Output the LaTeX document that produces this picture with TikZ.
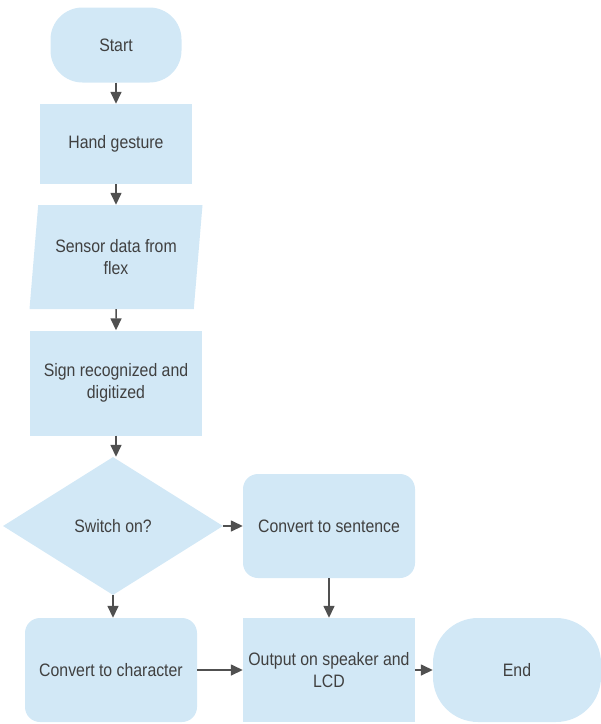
\documentclass[tikz,border=0pt]{standalone}
\usepackage{fontspec}
\setmainfont{Liberation Sans}[FakeStretch=0.88]
\usetikzlibrary{shapes.geometric,arrows.meta}
\definecolor{boxblue}{HTML}{D2E8F6}
\definecolor{inkgrey}{HTML}{404040}
\definecolor{arrowgrey}{HTML}{505050}

\begin{document}
\begin{tikzpicture}[x=1pt,y=-1pt,
    flowbox/.style={fill=boxblue,text=inkgrey,align=center,inner sep=2pt,
      font=\fontsize{18pt}{22pt}\selectfont,minimum width=172pt,minimum height=104pt},
    flowarrow/.style={draw=arrowgrey,line width=1.5pt,-{Triangle[length=12pt,width=11pt]}}]
            \useasboundingbox (0,0) rectangle (601,724);
            % start
            \node [flowbox,rounded corners=32pt,minimum width=131pt,minimum height=75pt] (start) at (116,45) {Start};
            % hand gesture box
            \node [flowbox,minimum width=152pt,minimum height=80pt] (hand) at (116,144) {Hand gesture};
            % sensor data, slanted
            \node [flowbox,trapezium,trapezium left angle=77.5,trapezium right angle=102.5,
                   trapezium stretches body,minimum width=173pt] (sensor) at (116,257) {Sensor data from\\flex};
            % sign box
            \node [flowbox,minimum height=105pt] (sign) at (116,383) {Sign recognized and\\digitized};
            % switch decision
            \node [flowbox,diamond,aspect=1.6,minimum width=220pt,minimum height=138pt] (switch) at (113,526) {Switch on?};
            % sentence box right of switch
            \node [flowbox,rounded corners=15pt] (sentence) at (329,526) {Convert to sentence};
            % bottom row
            \node [flowbox,rounded corners=15pt] (char) at (111,670) {Convert to character};
            \node [flowbox] (output) at (329,670) {Output on speaker and\\LCD};
            \node [flowbox,rounded corners=45pt,minimum width=168pt] (end) at (517,670) {End};
            % arrows down the left side
            \draw [flowarrow] (start) -- (hand);
            \draw [flowarrow] (hand) -- (sensor);
            \draw [flowarrow] (sensor) -- (sign);
            \draw [flowarrow] (sign.south) -- (sign.south |- switch.north);
            \draw [flowarrow] (switch.south) -- (switch.south |- char.north);
            % arrows to the right
            \draw [flowarrow] (switch.east) -- (sentence.west);
            \draw [flowarrow] (sentence) -- (output);
            \draw [flowarrow] (char) -- (output);
            \draw [flowarrow] (output) -- (end);
         \end{tikzpicture}
\end{document}
